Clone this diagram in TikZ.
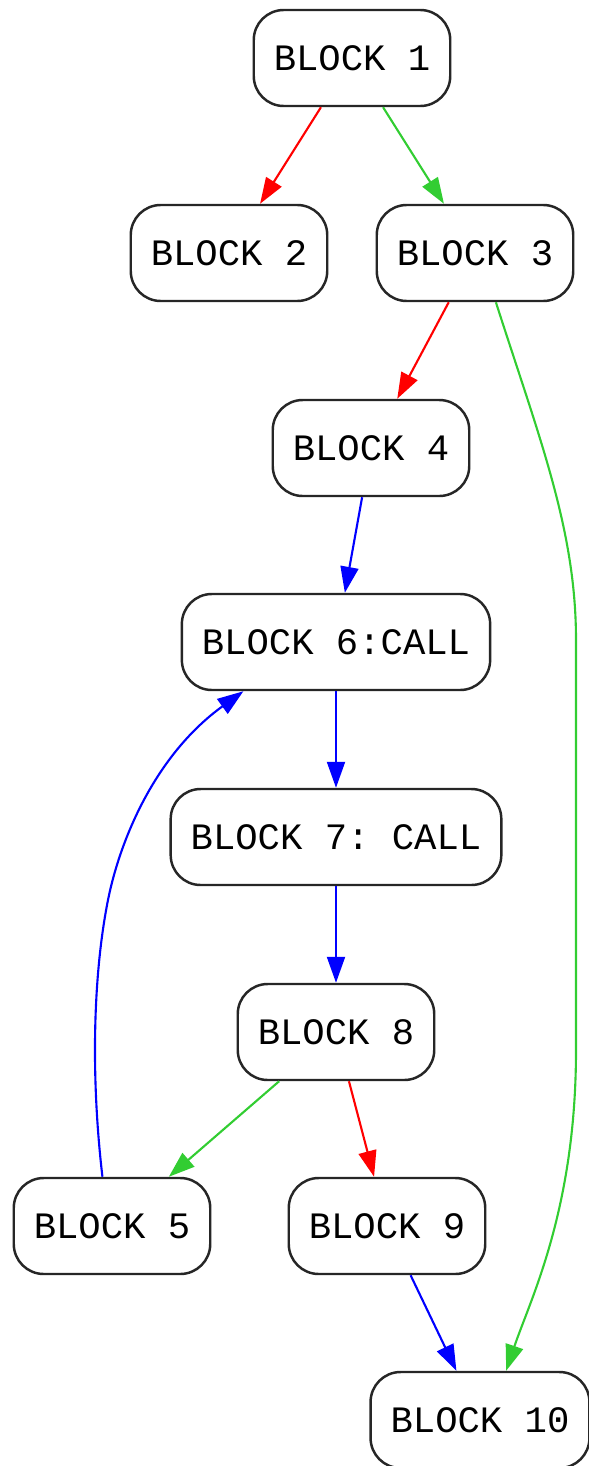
\documentclass[tikz,border=0pt]{standalone}
\usepackage{fontspec}
\setmonofont{Liberation Mono}
\usepackage{tikz}
\usetikzlibrary{positioning,arrows.meta}
\definecolor{tred}{HTML}{FF0000}
\definecolor{tgreen}{HTML}{32CD32}
\definecolor{tblue}{HTML}{0000FF}

\begin{document}
\begin{tikzpicture}[
  blk/.style={draw=black!85, line width=0.7pt, rounded corners=0.3cm, fill=white,
    minimum height=0.96cm, inner xsep=0.2cm, font=\ttfamily\fontsize{10.6}{12}\selectfont},
  edg/.style={-{Triangle[length=0.26cm,width=0.18cm]}, line width=0.6pt},
  redg/.style={edg, tred},
  gedg/.style={edg, tgreen},
  bedg/.style={edg, tblue}]
\useasboundingbox (0,0) rectangle (5.89,-14.66);
% blocks
\node[blk] (b1) at (3.52,-0.58) {BLOCK 1};
\node[blk] (b2) at (2.29,-2.53) {BLOCK 2};
\node[blk] (b3) at (4.75,-2.53) {BLOCK 3};
\node[blk] (b4) at (3.71,-4.48) {BLOCK 4};
\node[blk] (b6) at (3.36,-6.42) {BLOCK 6:CALL};
\node[blk] (b7) at (3.36,-8.37) {BLOCK 7: CALL};
\node[blk] (b8) at (3.36,-10.32) {BLOCK 8};
\node[blk] (b5) at (1.12,-12.26) {BLOCK 5};
\node[blk] (b9) at (3.87,-12.26) {BLOCK 9};
\node[blk] (b10) at (4.80,-14.20) {BLOCK 10};
% straight edges
\draw[redg] (b1) -- (b2); \draw[gedg] (b1) -- (b3);
\draw[redg] (b3) -- (b4); \draw[bedg] (b4) -- (b6);
\draw[bedg] (b6) -- (b7); \draw[bedg] (b7) -- (b8);
\draw[gedg] (b8) -- (b5); \draw[redg] (b8) -- (b9);
\draw[bedg] (b9) -- (b10);
% long edges
\draw[gedg] (b3.-67) .. controls (5.40,-4.40) and (5.76,-5.30) .. (5.76,-6.40)
  -- (5.76,-10.50) .. controls (5.76,-12.10) and (5.30,-13.00) .. (b10.62);
\draw[bedg] (b5.101) .. controls (0.90,-10.70) and (0.94,-9.70) .. (1.08,-9.00)
  .. controls (1.20,-8.40) and (1.55,-7.55) .. (b6.208);
\end{tikzpicture}
\end{document}
